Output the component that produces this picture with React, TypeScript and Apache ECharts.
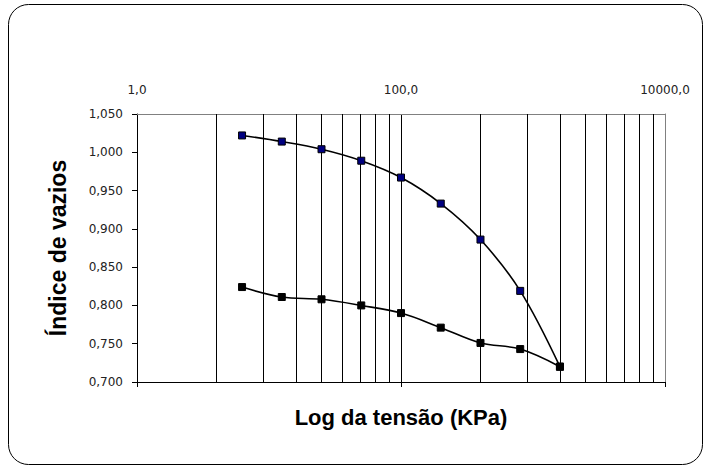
import React, { useEffect, useRef } from "react";
import * as echarts from "echarts";

// Tensão aplicada (KPa) – estágios de carga
const tensaoKPa = [6.25, 12.5, 25, 50, 100, 200, 400, 800, 1600];
// Índice de vazios – ramo de carregamento
const indiceCarregamento = [1.022, 1.014, 1.004, 0.989, 0.967, 0.933, 0.886, 0.819, 0.72];
// Índice de vazios – ramo de descarregamento
const indiceDescarregamento = [0.824, 0.811, 0.808, 0.8, 0.79, 0.771, 0.751, 0.743, 0.72];
// Linhas de grade secundárias do eixo logarítmico
const gradeSecundaria = [4, 9, 16, 25, 36, 49, 64, 81, 400, 900, 1600, 2500, 3600, 4900, 6400, 8100];

const FONT = 'Arial, "Liberation Sans", sans-serif';
const TICK_FONT = '"DejaVu Sans", Verdana, sans-serif';

export default function App() {
  const ref = useRef<HTMLDivElement>(null);

  useEffect(() => {
    if (!ref.current) return;
    const chart = echarts.init(ref.current, null, { renderer: "svg" });
    const fmtX = (v: number) => Number(v).toFixed(1).replace(".", ",");
    const fmtY = (v: number) => Number(v).toFixed(3).replace(".", ",");

    chart.setOption({
      animation: false,
      backgroundColor: "#ffffff",
      graphic: [
        {
          type: "rect",
          silent: true,
          shape: { x: 8.5, y: 4.5, width: 694, height: 460, r: 20 },
          style: { fill: "none", stroke: "#000", lineWidth: 1 },
        },
      ],
      grid: { left: 137, right: 40, top: 114, bottom: 84, containLabel: false },
      xAxis: [
        {
          type: "log",
          logBase: 100,
          min: 1,
          max: 10000,
          position: "bottom",
          axisLine: { show: true, onZero: false, lineStyle: { color: "#000", width: 1 } },
          axisTick: { show: true, inside: false, length: 5, lineStyle: { color: "#000" } },
          axisLabel: { show: false },
          splitLine: { show: true, lineStyle: { color: "#000", width: 1 } },
          name: "Log da tensão (KPa)",
          nameLocation: "middle",
          nameGap: 24,
          nameTextStyle: { fontFamily: FONT, fontSize: 22, fontWeight: "bold", color: "#000" },
        },
        {
          type: "log",
          logBase: 100,
          min: 1,
          max: 10000,
          position: "top",
          axisLine: { show: true, lineStyle: { color: "#808080", width: 1 } },
          axisTick: { show: false },
          axisLabel: {
            show: true,
            margin: 18,
            showMinLabel: true,
            showMaxLabel: true,
            formatter: fmtX,
            fontFamily: TICK_FONT,
            fontSize: 12,
            color: "#222",
          },
          splitLine: { show: false },
        },
      ],
      yAxis: [
        {
          type: "value",
          min: 0.7,
          max: 1.05,
          interval: 0.05,
          position: "left",
          axisLine: { show: true, onZero: false, lineStyle: { color: "#000", width: 1 } },
          axisTick: { show: true, inside: false, length: 5, lineStyle: { color: "#000" } },
          axisLabel: {
            margin: 14,
            formatter: fmtY,
            fontFamily: TICK_FONT,
            fontSize: 12,
            color: "#222",
          },
          splitLine: { show: false },
          name: "Índice de vazios",
          nameLocation: "middle",
          nameGap: 68,
          nameTextStyle: { fontFamily: FONT, fontSize: 23, fontWeight: "bold", color: "#000" },
        },
        {
          type: "value",
          min: 0.7,
          max: 1.05,
          interval: 0.05,
          position: "right",
          axisLine: { show: true, lineStyle: { color: "#808080", width: 1 } },
          axisTick: { show: false },
          axisLabel: { show: false },
          splitLine: { show: false },
        },
      ],
      series: [
        {
          name: "Carregamento",
          type: "line",
          xAxisIndex: 0,
          yAxisIndex: 0,
          data: tensaoKPa.map((x, i) => [x, indiceCarregamento[i]]),
          smooth: 0.35,
          symbol: "rect",
          symbolSize: 7,
          lineStyle: { color: "#000", width: 1.6 },
          itemStyle: { color: "#000080", borderColor: "#000", borderWidth: 1 },
          z: 5,
          markLine: {
            silent: true,
            symbol: ["none", "none"],
            label: { show: false },
            lineStyle: { color: "#000", width: 1, type: "solid" },
            data: gradeSecundaria.map((v) => ({ xAxis: v })),
            z: 1,
          },
        },
        {
          name: "Descarregamento",
          type: "line",
          xAxisIndex: 0,
          yAxisIndex: 0,
          data: tensaoKPa.map((x, i) => [x, indiceDescarregamento[i]]),
          smooth: 0.35,
          symbol: "rect",
          symbolSize: 7,
          lineStyle: { color: "#000", width: 1.6 },
          itemStyle: { color: "#000", borderColor: "#000", borderWidth: 1 },
          z: 5,
        },
      ],
    });

    return () => chart.dispose();
  }, []);

  return (
    <div
      ref={ref}
      style={{ position: "absolute", left: 0, top: 0, width: 705, height: 466, background: "#fff" }}
    />
  );
}
